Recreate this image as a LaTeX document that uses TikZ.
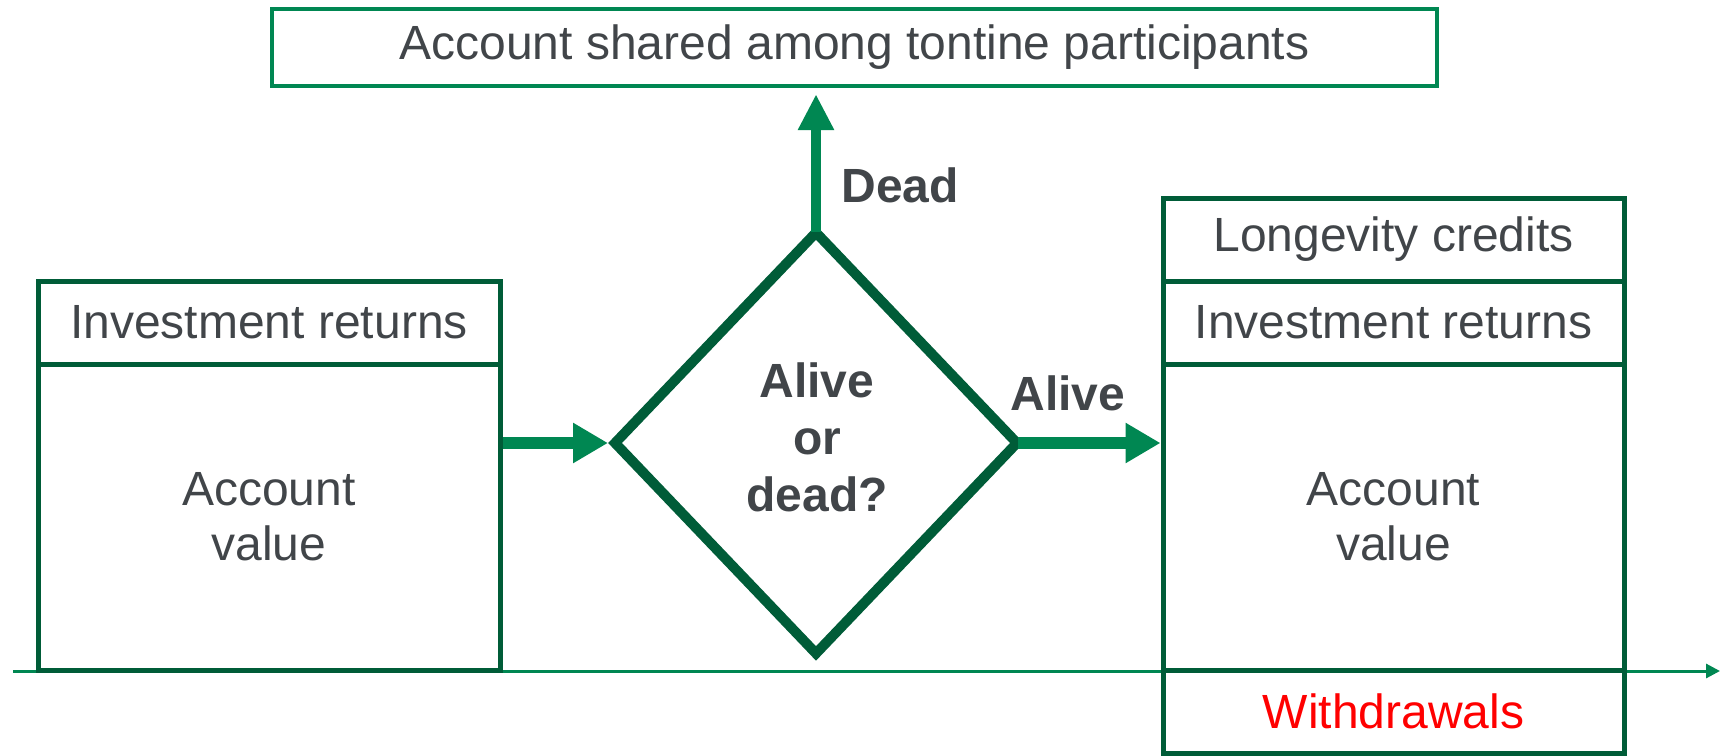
\documentclass[tikz,border=0pt]{standalone}
\usepackage{fontspec}
\setmainfont{Liberation Sans}
\usetikzlibrary{arrows.meta,shapes.geometric}
\definecolor{dkgreen}{RGB}{0,92,56}
\definecolor{mdgreen}{RGB}{0,135,82}
\definecolor{txtgray}{RGB}{65,69,73}
\begin{document}
\begin{tikzpicture}[x=0.5pt,y=-0.5pt,
  every node/.style={font=\fontsize{24}{27.5}\selectfont, text=txtgray},
  box/.style={draw=dkgreen, line width=2.5pt, inner sep=0pt, align=center, minimum width=231pt},
  headbox/.style={box, minimum height=41.5pt},
  bodybox/.style={box, minimum height=153pt},
  flow/.style={draw=mdgreen, line width=6pt, -{Triangle[length=17.5pt,width=19pt]}},
  upflow/.style={draw=mdgreen, line width=5pt, -{Triangle[length=18pt,width=17pt]}},
  lbl/.style={font=\fontsize{24}{28.5}\selectfont\bfseries},
  timeline/.style={draw=mdgreen, line width=1.5pt, -{Triangle[length=7pt,width=7pt]}}
]
\useasboundingbox (0,0) rectangle (1723,755);

% timeline
\coordinate (tl0) at (13,671);
\coordinate (tl1) at (1720,671);
\draw[timeline] (tl0) -- (tl1);

% top box
\node[draw=mdgreen, line width=2.2pt, inner sep=0pt, minimum width=582.5pt, minimum height=38.5pt]
  (top) at (854.5,47.5) {Account shared among tontine participants};

% left account
\node[headbox] (lhead) at (269,322.5) {Investment returns};
\node[bodybox] (lbody) at (269,517) {Account\\value};

% diamond
\node[diamond, draw=dkgreen, line width=5pt, minimum width=203pt, minimum height=212.5pt,
  inner sep=0pt] (dia) at (816,443) {};
\node[lbl, align=center, inner sep=0pt] (diatext) at (817,437) {Alive\\or\\dead?};

% right account
\node[headbox, minimum width=230.5pt] (rlong) at (1393.5,239.5) {Longevity credits};
\node[headbox, minimum width=230.5pt] (rinv) at (1393.5,322.5) {Investment returns};
\node[bodybox, minimum width=230.5pt] (rbody) at (1393.5,517) {Account\\value};
\node[headbox, minimum width=230.5pt, text=red] (rwd) at (1393.5,711.5) {Withdrawals};

% connectors
\draw[flow] (lbody.east |- dia.west) -- (dia.west);
\draw[flow] ([xshift=-3pt]dia.east) -- (dia.east -| rbody.west);
\coordinate (deadtip) at ([yshift=-3pt]top.south -| dia.north);
\draw[upflow] ([yshift=-3pt]dia.north) -- (deadtip);

% labels
\node[lbl, anchor=west, inner sep=0pt] (deadlbl) at (841,185) {Dead};
\node[lbl, inner sep=0pt] (alivelbl) at (1068,393) {Alive};
\end{tikzpicture}
\end{document}
